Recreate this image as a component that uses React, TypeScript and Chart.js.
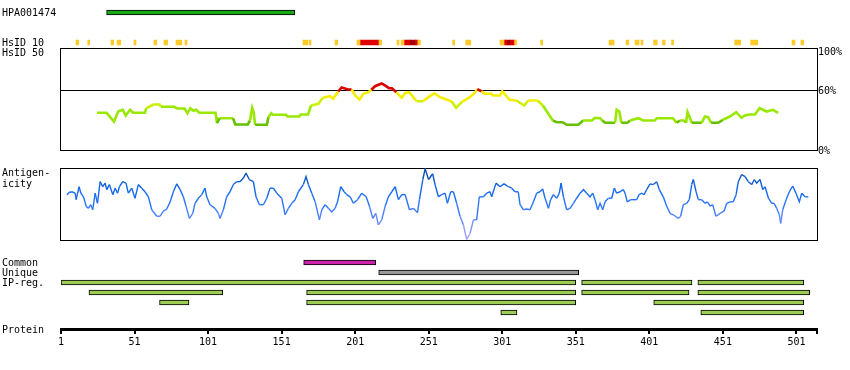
import React, { useEffect, useRef } from 'react';
import { Chart, registerables } from 'chart.js';

Chart.register(...registerables);

// ---------------- data ----------------
const SEQ_START = 1;
const SEQ_END = 515;
const axisTickValues = [1, 51, 101, 151, 201, 251, 301, 351, 401, 451, 501, 515];

const hpaAntigen = [32, 160];

// HsID 10 stripes (residue ranges) by identity level
const hsid10Medium = [
  [11.2, 13.0], [19.2, 20.5], [35.0, 36.8], [39.1, 41.6], [50.6, 52.0], [64.2, 66.1],
  [71.0, 73.5], [79.2, 83.1], [85.3, 86.7], [165.5, 168.7], [169.6, 171.0], [187.3, 189.1],
  [202.2, 204.3], [217.2, 219.0], [229.4, 230.8], [232.2, 234.2], [243.6, 245.4],
  [267.3, 268.7], [276.2, 279.6], [299.5, 302.2], [309.4, 310.8], [327.1, 328.5],
  [373.6, 377.0], [385.2, 387.0], [391.3, 394.0], [395.3, 396.7], [403.9, 406.4],
  [410.0, 411.8], [416.1, 417.5], [459.0, 463.1], [469.9, 474.7], [498.0, 500.0], [504.1, 505.9],
];
const hsid10High = [[204.3, 217.2], [234.2, 238.1], [241.9, 243.6], [302.2, 304.0], [306.7, 309.4]];
const hsid10Top = [[238.1, 241.9], [304.0, 306.7]];

// HsID 50 curve (% identity)
const hsid50Residues = [
  25.5, 32, 37, 40, 43, 45, 48, 50, 58, 59, 64, 68, 69, 78, 80, 85, 87, 89, 91, 93, 95, 106,
  106.5, 107, 109, 118, 119.5, 128, 129.5, 131, 132, 133, 141, 142, 144, 145, 154, 155, 163,
  164, 169, 171, 176, 179, 184, 186, 189.5, 191.8, 194, 196, 198.6, 201, 204, 206.5, 210, 212,
  214.5, 219, 222, 224, 226, 229, 232.6, 234.9, 237.8, 242.8, 247, 251.8, 255, 258.7, 263,
  266.6, 269.6, 273.4, 279, 282, 284, 287, 289, 293.5, 294.7, 299.5, 301, 306, 310.6, 316,
  318.6, 325, 328.6, 335.4, 338, 342, 344.8, 352.7, 356, 362, 364, 367.5, 369, 371, 377.7,
  378.8, 380.6, 382, 386, 388, 393.5, 396.7, 404.7, 406, 417, 419.6, 421.8, 425, 426, 427,
  428.7, 429.8, 436.6, 438.8, 441, 443, 447.8, 451, 455.8, 460, 463.7, 466, 469, 472.8, 476,
  480.7, 485, 488.6,
];
const hsid50Identity = [
  37.7, 37.7, 29, 39.3, 40.7, 35, 40.7, 37.7, 37.7, 42.3, 46, 46, 43.7, 43.7, 42, 42, 37.3,
  42.3, 39.7, 40.7, 37.7, 37.7, 33.3, 27.3, 32.3, 32.3, 26, 26, 30, 42.7, 38.3, 25.7, 25.7,
  33.3, 37.3, 35.7, 35.7, 34, 34, 36, 36, 45, 46.7, 52.7, 54.3, 51.7, 59, 63, 62, 61, 61, 55,
  51, 56.7, 58.3, 60.7, 64.3, 67, 64.3, 62.3, 62.3, 58.3, 52.7, 57.3, 58.3, 49.3, 49.3, 54.3,
  57.3, 53.3, 51, 49, 42.7, 48.3, 53.3, 57.3, 61.3, 59.3, 56.7, 56.7, 55, 55, 59.3, 50.7, 50,
  45, 50, 50, 45, 30, 28.3, 28.3, 25.7, 25.7, 30, 30, 32.7, 32.3, 30, 27.7, 27.7, 40.7, 39,
  27.7, 27.7, 30, 32.3, 30, 30, 32.3, 32.3, 27.7, 30, 30, 27.7, 38.3, 32.3, 27.7, 27.7, 34,
  33.3, 27.7, 27.7, 30.7, 34, 38.3, 32.7, 35, 36, 36, 42.3, 39, 40.7, 37.7,
];
const HSID_THRESHOLD = 60;

// Antigenicity (relative score, 0 = panel bottom, 100 = panel top)
const antigenicityResidues = [
  5, 6.5, 8.3, 10.6, 11.3, 13.3, 14.5, 16.3, 18.1, 19.6, 21.2, 22.6, 24.2, 25.8, 27.6, 29.4,
  31, 32.1, 33.9, 36.2, 37.8, 39.4, 40.7, 43, 45.2, 46.8, 49.1, 51.3, 53.6, 55.9, 58.1, 60.4,
  62.7, 66.1, 68.4, 70.6, 72.9, 75.2, 77.4, 79.7, 82, 84.2, 86, 88.3, 90.6, 92.1, 94.4, 96.7,
  98.9, 100.1, 102.3, 105.7, 108, 109.1, 111.4, 113.6, 115.9, 118.2, 120.4, 122.7, 125, 126.8,
  129, 131.8, 133.6, 135.9, 138.6, 140.9, 143.1, 145.4, 147.7, 151.1, 153.4, 155.6, 157.9,
  160.2, 162.4, 165.8, 167.6, 169.2, 171.5, 173.8, 176.7, 178.3, 180.6, 182.8, 185.1, 187.4,
  189, 191.2, 193.5, 195.3, 197.6, 199.8, 202.6, 205.5, 208.5, 210.7, 213, 215, 216.8, 219.1,
  221.4, 223.6, 225.9, 228.2, 230.4, 232.7, 235, 237.9, 240.6, 243.4, 244.7, 247, 248.6,
  250.9, 253.7, 255.3, 257.6, 259.8, 262.1, 263.7, 266, 267.8, 270, 272.3, 274.6, 276.8,
  279.1, 281.4, 283.6, 285.4, 288.2, 290.4, 292.7, 293.8, 296.8, 299.5, 302.2, 305.2, 307.4,
  309.7, 311.9, 313.1, 315.4, 317.6, 319.9, 322.2, 324.4, 326.7, 328.5, 330.1, 332.4, 333.9,
  335.8, 338, 339.8, 341, 342.6, 344.8, 347.1, 349.4, 351.6, 353.9, 356.2, 358.4, 360.7,
  362.5, 364.1, 365.9, 367.5, 369.3, 370.9, 373.1, 375.4, 377.2, 378.8, 381.1, 383.3, 384.5,
  386, 388.3, 392.4, 394, 395.8, 397.4, 399.2, 401.5, 403.7, 406, 407.8, 410.5, 412.8, 415.1,
  417.3, 420.7, 422.3, 424.1, 426.4, 428.2, 429.8, 430.9, 432.8, 434.3, 436.6, 438.9, 440.5,
  442.3, 444.1, 446.3, 449.1, 451.8, 453.6, 455.9, 458.1, 460, 461.5, 463.8, 466.1, 468.3,
  470.6, 472.4, 474, 476.3, 478.1, 479.7, 482, 484.2, 485.8, 487.6, 489.4, 490.3, 491.7, 494,
  496.2, 498.5, 500.7, 503, 504.6, 506.9, 509.1,
];
const antigenicityScores = [
  63, 66, 67, 65, 56, 74, 65, 60, 47, 44, 49, 42, 65, 51, 81, 74, 79, 70, 77, 63, 72, 65, 74,
  81, 79, 65, 72, 58, 77, 72, 67, 60, 42, 33, 33, 40, 43, 53, 67, 78, 70, 60, 47, 30, 37, 51,
  58, 63, 72, 60, 49, 44, 37, 30, 42, 60, 67, 77, 81, 81, 86, 93, 84, 81, 60, 49, 49, 58, 72,
  72, 65, 58, 35, 44, 51, 56, 67, 77, 88, 77, 65, 53, 28, 42, 49, 44, 39, 44, 53, 74, 67, 63,
  60, 51, 56, 65, 60, 47, 30, 37, 21, 28, 47, 60, 67, 74, 56, 63, 63, 42, 44, 38, 56, 84, 99,
  84, 92, 77, 60, 63, 65, 51, 67, 67, 51, 33, 21, 1, 9, 28, 28, 60, 60, 65, 67, 60, 79, 74,
  78, 74, 72, 67, 67, 49, 42, 43, 42, 53, 65, 67, 71, 58, 44, 56, 63, 58, 65, 79, 60, 42, 44,
  51, 58, 65, 70, 65, 60, 65, 56, 42, 51, 42, 53, 58, 58, 72, 65, 67, 70, 65, 53, 56, 56, 63,
  65, 63, 70, 78, 77, 81, 70, 60, 47, 37, 35, 30, 33, 49, 51, 56, 77, 84, 67, 56, 56, 51, 53,
  47, 49, 33, 37, 40, 51, 53, 53, 63, 81, 91, 88, 81, 77, 84, 79, 84, 70, 74, 58, 51, 51, 44,
  35, 23, 42, 56, 67, 75, 65, 53, 65, 60, 60,
];

// Region bars
const commonRegion = [166, 215];
const uniqueRegion = [217, 353];
const ipRegRow1 = [[1, 351], [355, 430], [434, 506]];
const ipRegRow2 = [[20, 111], [168, 351], [355, 428], [434, 510]];
const ipRegRow3 = [[68, 88], [168, 351], [404, 506]];
const ipRegRow4 = [[300, 311], [436, 506]];

// ---------------- styling ----------------
const FONT = '"DejaVu Sans Mono", monospace';
const PAD_LEFT = 61;
const PAD_RIGHT = 33;

function hsidColor(v: number) {
  if (v >= 60) return '#dd0000';
  if (v >= 50) return '#f4ee00';
  if (v >= 44) return '#ccf000';
  if (v >= 30) return '#99e800';
  return '#66c000';
}

const agStops: [number, number[]][] = [
  [0, [176, 168, 255]],
  [25, [110, 140, 255]],
  [45, [50, 120, 255]],
  [70, [20, 104, 236]],
  [85, [16, 88, 200]],
  [100, [10, 64, 150]],
];
function agColor(v: number) {
  for (let i = 1; i < agStops.length; i++) {
    if (v <= agStops[i][0]) {
      const [a, ca] = agStops[i - 1];
      const [b, cb] = agStops[i];
      const t = (v - a) / (b - a);
      const c = ca.map((x, k) => Math.round(x + (cb[k] - x) * t));
      return `rgb(${c[0]},${c[1]},${c[2]})`;
    }
  }
  const c = agStops[agStops.length - 1][1];
  return `rgb(${c[0]},${c[1]},${c[2]})`;
}

const boxPlugin = {
  id: 'panelBox',
  beforeDatasetsDraw(chart: any, _args: any, opts: any) {
    if (!opts || !opts.show) return;
    const { ctx, chartArea: a } = chart;
    const top = Math.floor(a.top + (opts.topOffset || 0)) + 0.5;
    const bottom = Math.floor(a.bottom) + 0.5;
    const left = Math.floor(a.left) - 0.5;
    const right = Math.floor(a.right) + 0.5;
    ctx.save();
    ctx.strokeStyle = '#000';
    ctx.lineWidth = 1;
    ctx.strokeRect(left, top, right - left, bottom - top);
    ctx.restore();
  },
};

const hiddenX = { type: 'linear', min: SEQ_START, max: SEQ_END, display: false, offset: false };
const barDefaults = {
  grouped: false,
  maxBarThickness: 5,
  categoryPercentage: 1,
  barPercentage: 1,
  borderSkipped: false,
};
const basePlugins = { legend: { display: false }, tooltip: { enabled: false } };

const toPts = (xs: number[], ys: number[]) => xs.map((x, i) => ({ x, y: ys[i] }));
const rowBars = (segs: number[][], row: number) => segs.map((s) => ({ x: s, y: row }));

function rowScale(max: number) {
  return {
    type: 'linear',
    reverse: true,
    min: -0.5,
    max,
    offset: false,
    grace: 0,
    display: false,
    grid: { offset: false },
  };
}

function buildTop(): any {
  return {
    type: 'bar',
    data: {
      datasets: [
        { data: [{ x: hpaAntigen, y: 0 }], backgroundColor: '#18a818', borderColor: '#000', borderWidth: 1 },
        { data: rowBars(hsid10Medium, 3), backgroundColor: '#ffc926', borderWidth: 0 },
        { data: rowBars(hsid10High, 3), backgroundColor: '#e00000', borderWidth: 0 },
        { data: rowBars(hsid10Top, 3), backgroundColor: '#a00000', borderWidth: 0 },
      ],
    },
    options: {
      indexAxis: 'y',
      responsive: false,
      animation: false,
      layout: { padding: { left: PAD_LEFT, right: PAD_RIGHT, top: 7.5, bottom: 2.5 } },
      datasets: { bar: barDefaults },
      plugins: basePlugins,
      scales: {
        x: hiddenX,
        y: rowScale(3.5),
      },
    },
  };
}

function buildHsid50(): any {
  return {
    type: 'line',
    data: {
      datasets: [
        {
          data: [{ x: SEQ_START, y: HSID_THRESHOLD }, { x: SEQ_END, y: HSID_THRESHOLD }],
          borderColor: '#000',
          borderWidth: 1,
          pointRadius: 0,
          order: 2,
        },
        {
          data: toPts(hsid50Residues, hsid50Identity),
          borderWidth: 2.6,
          pointRadius: 0,
          borderColor: '#99e800',
          segment: {
            borderColor: (c: any) => hsidColor((c.p0.parsed.y + c.p1.parsed.y) / 2),
          },
          order: 1,
        },
      ],
    },
    options: {
      responsive: false,
      animation: false,
      layout: { padding: { left: PAD_LEFT, right: PAD_RIGHT, top: 10.5, bottom: 4.5 } },
      plugins: { ...basePlugins, panelBox: { show: true, topOffset: -2 } },
      scales: {
        x: hiddenX,
        y: { type: 'linear', min: 0, max: 100, display: false },
      },
    },
    plugins: [boxPlugin],
  };
}

function buildAntigenicity(): any {
  return {
    type: 'line',
    data: {
      datasets: [
        {
          data: toPts(antigenicityResidues, antigenicityScores),
          borderWidth: 1.4,
          pointRadius: 0,
          borderColor: '#1a6cf0',
          segment: {
            borderColor: (c: any) => agColor((c.p0.parsed.y + c.p1.parsed.y) / 2),
          },
        },
      ],
    },
    options: {
      responsive: false,
      animation: false,
      layout: { padding: { left: PAD_LEFT, right: PAD_RIGHT, top: 8, bottom: 5 } },
      plugins: { ...basePlugins, panelBox: { show: true, topOffset: 0 } },
      scales: {
        x: hiddenX,
        y: { type: 'linear', min: 0, max: 100, display: false },
      },
    },
    plugins: [boxPlugin],
  };
}

function buildRegions(): any {
  return {
    type: 'bar',
    data: {
      datasets: [
        { data: [{ x: commonRegion, y: 0 }], backgroundColor: '#cc22aa' },
        { data: [{ x: uniqueRegion, y: 1 }], backgroundColor: '#999999' },
        {
          data: [
            ...rowBars(ipRegRow1, 2),
            ...rowBars(ipRegRow2, 3),
            ...rowBars(ipRegRow3, 4),
            ...rowBars(ipRegRow4, 5),
          ],
          backgroundColor: '#9ccc55',
        },
      ],
    },
    options: {
      indexAxis: 'y',
      responsive: false,
      animation: false,
      layout: { padding: { left: PAD_LEFT, right: PAD_RIGHT, top: 7.5, bottom: 0 } },
      datasets: { bar: { ...barDefaults, borderColor: '#000', borderWidth: 1 } },
      plugins: basePlugins,
      scales: {
        x: {
          type: 'linear',
          min: SEQ_START,
          max: SEQ_END,
          offset: false,
          position: 'bottom',
          afterBuildTicks: (s: any) => {
            s.ticks = axisTickValues.map((v) => ({ value: v }));
          },
          afterFit: (s: any) => {
            s.height = 41;
          },
          grid: { drawOnChartArea: false, tickLength: 5, lineWidth: 2, color: '#000', offset: false },
          border: { display: true, width: 3, color: '#000' },
          ticks: {
            autoSkip: false,
            maxRotation: 0,
            padding: 2,
            color: '#000',
            font: { family: FONT, size: 10 },
            callback: (v: any) => (v === SEQ_END ? '' : String(v)),
          },
        },
        y: rowScale(6.65),
      },
    },
  };
}

function ChartCanvas({ top, height, build }: { top: number; height: number; build: () => any }) {
  const ref = useRef<HTMLCanvasElement>(null);
  useEffect(() => {
    const chart = new Chart(ref.current as HTMLCanvasElement, build());
    return () => chart.destroy();
  }, []);
  return (
    <canvas
      ref={ref}
      width={850}
      height={height}
      style={{ position: 'absolute', left: 0, top, width: 850, height }}
    />
  );
}

const textLabels: [string, number, number][] = [
  ['HPA001474', 2, 7],
  ['HsID 10', 2, 36.7],
  ['HsID 50', 2, 46.9],
  ['Antigen-', 2, 167],
  ['icity', 2, 177.5],
  ['Common', 2, 257],
  ['Unique', 2, 267],
  ['IP-reg.', 2, 277],
  ['Protein', 2, 323.5],
  ['100%', 818, 46.2],
  ['60%', 818, 84.5],
  ['0%', 818, 144.5],
];

export default function App() {
  return (
    <div
      style={{
        position: 'fixed',
        left: 0,
        top: 0,
        width: 850,
        height: 370,
        background: '#fff',
        overflow: 'hidden',
      }}
    >
      <ChartCanvas top={0} height={50} build={buildTop} />
      <ChartCanvas top={40} height={115} build={buildHsid50} />
      <ChartCanvas top={160} height={85} build={buildAntigenicity} />
      <ChartCanvas top={250} height={120} build={buildRegions} />
      {textLabels.map(([t, l, tp]) => (
        <div
          key={t}
          style={{
            position: 'absolute',
            left: l,
            top: tp,
            fontFamily: FONT,
            fontSize: 10,
            lineHeight: '12px',
            color: '#000',
            whiteSpace: 'pre',
          }}
        >
          {t}
        </div>
      ))}
    </div>
  );
}
